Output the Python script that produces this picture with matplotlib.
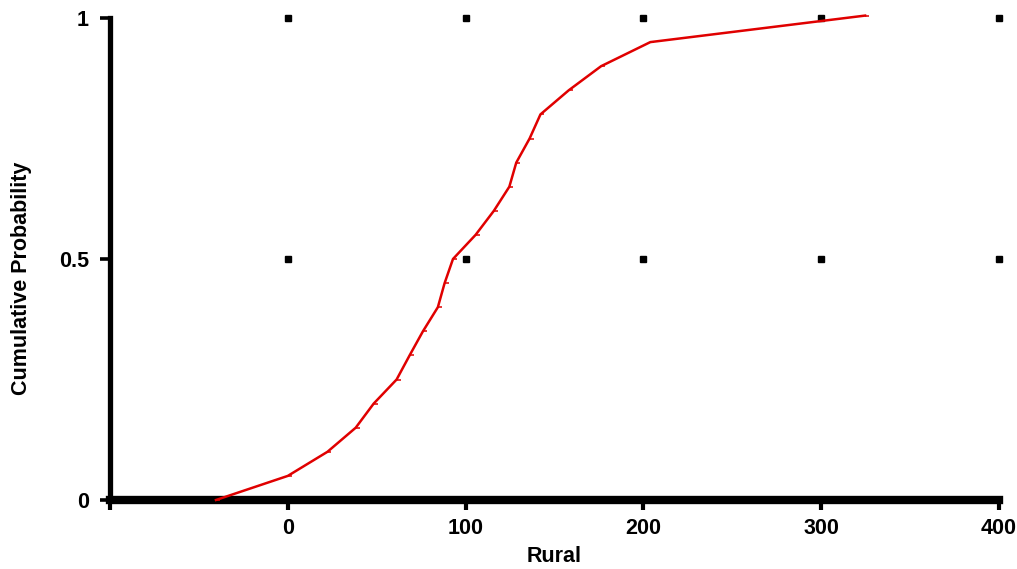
import matplotlib
matplotlib.use("Agg")
import matplotlib.pyplot as plt
import numpy as np

rural = [-40.4, 0.0, 22.3, 38.2, 48.3, 61.2, 68.5, 76.0, 84.4, 88.2, 92.9,
         105.6, 115.9, 124.6, 128.5, 136.0, 142.1, 158.0, 176.2, 203.9, 324.7]
cum_prob = [0.0, 0.05, 0.10, 0.15, 0.20, 0.25, 0.30, 0.35, 0.40, 0.45, 0.50,
            0.55, 0.60, 0.65, 0.70, 0.75, 0.80, 0.85, 0.90, 0.95, 1.005]
x_ticks = [-100, 0, 100, 200, 300, 400]
x_labels = ["", "0", "100", "200", "300", "400"]
y_ticks = [0, 0.5, 1]
y_labels = ["0", "0.5", "1"]

plt.rcParams['font.family'] = ['Liberation Sans', 'DejaVu Sans']

fig = plt.figure(figsize=(10.17, 5.69), dpi=100)
ax = fig.add_axes([110/1017, 1-500/569, (999-110)/1017, (500-18)/569])

ax.set_xlim(-100, 400)
ax.set_ylim(0, 1)

# grid dots at intersections
gx, gy = np.meshgrid([t for t in x_ticks if t > -100], [t for t in y_ticks if t > 0])
ax.plot(gx.ravel(), gy.ravel(), linestyle='none', marker='s', markersize=3.8,
        color='black', clip_on=False, zorder=2)

ax.plot(rural, cum_prob, color='#e00000', linewidth=1.8, marker=1,
        markersize=3, markeredgewidth=1.1, clip_on=False, zorder=3)

for s in ['top', 'right']:
    ax.spines[s].set_visible(False)
ax.spines['left'].set_linewidth(3.8)
ax.spines['bottom'].set_linewidth(6.0)
ax.spines['left'].set_capstyle('projecting')
ax.spines['bottom'].set_capstyle('projecting')

ax.set_xticks(x_ticks)
ax.set_xticklabels(x_labels)
ax.set_yticks(y_ticks)
ax.set_yticklabels(y_labels)
ax.tick_params(axis='x', direction='out', length=7.2, width=3.0, pad=6,
               labelsize=15.5)
ax.tick_params(axis='y', direction='out', length=7.2, width=2.6, pad=8,
               labelsize=15.5)
for lab in ax.get_xticklabels() + ax.get_yticklabels():
    lab.set_fontweight('bold')

ax.set_xlabel('Rural', fontsize=15.5, fontweight='bold', labelpad=5)
ax.set_ylabel('Cumulative Probability', fontsize=15.5, fontweight='bold')
ax.yaxis.set_label_coords((32 - 110) / 889, (500 - 278) / 482)

fig.savefig('out.png', dpi=100)
